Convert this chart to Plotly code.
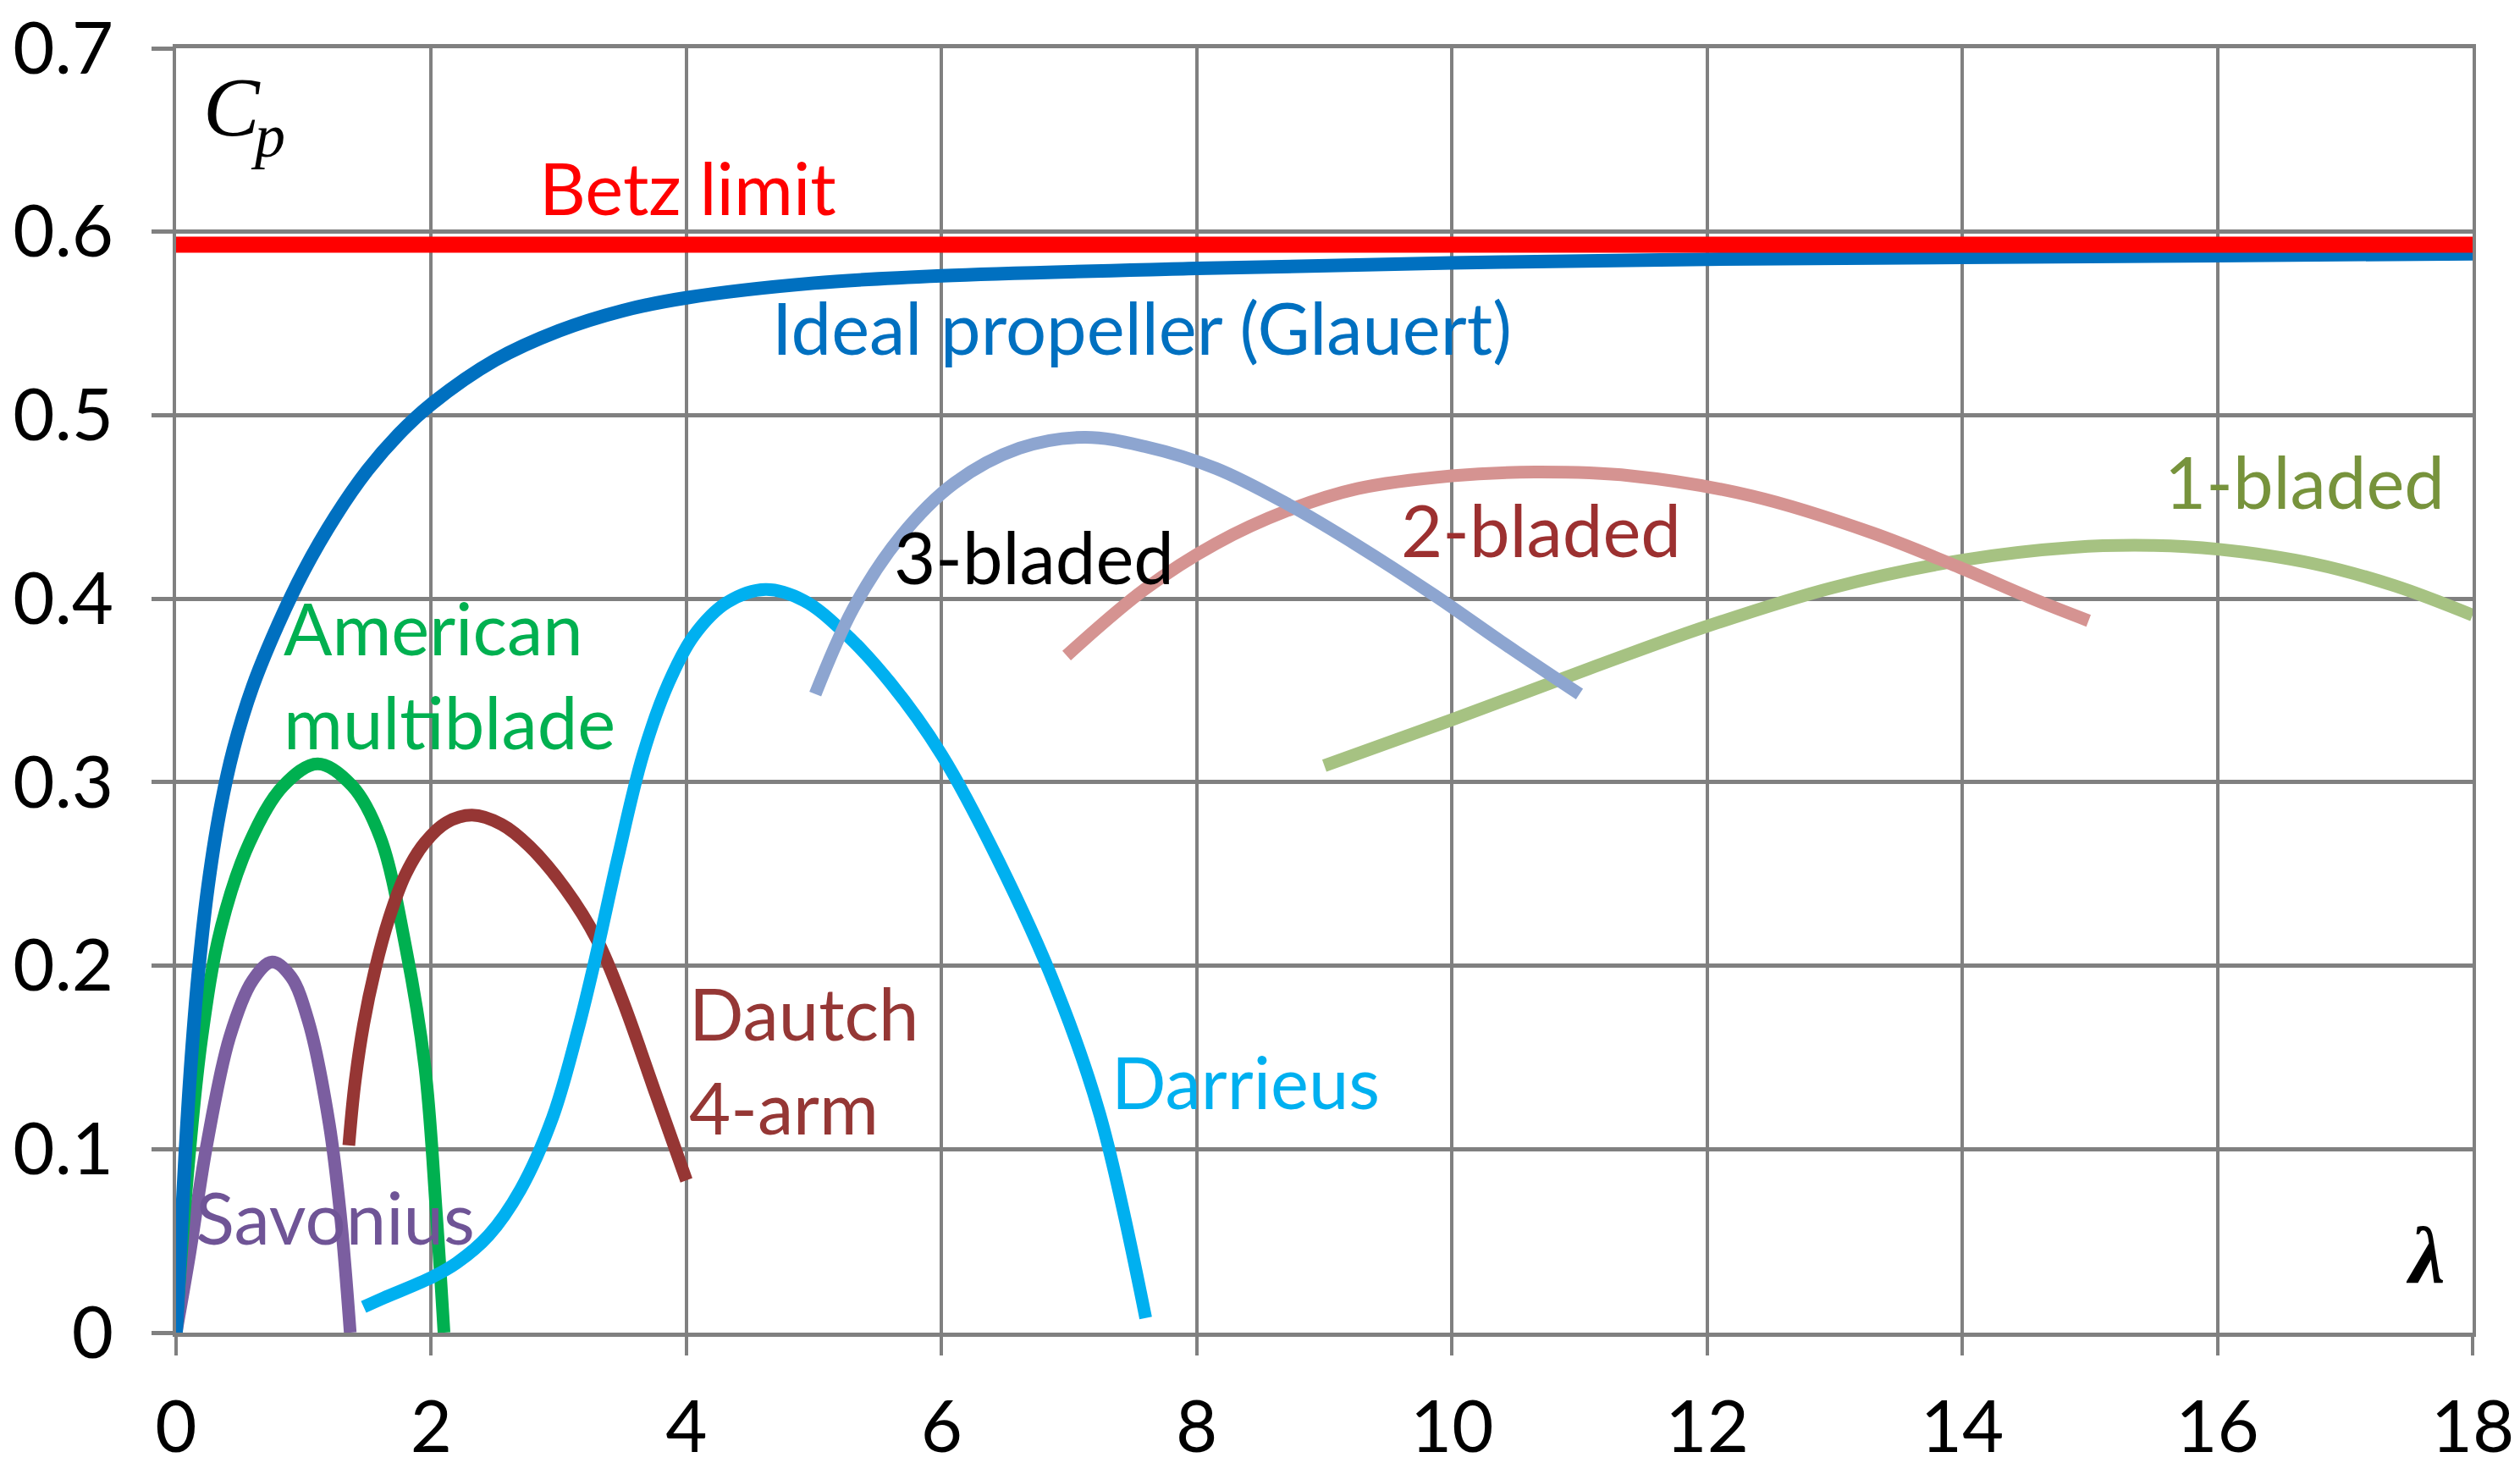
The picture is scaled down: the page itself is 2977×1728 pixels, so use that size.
import plotly.graph_objects as go

# ---------------- data ----------------
betz_x = [0, 18]
betz_y = [0.593, 0.593]

glauert_x = [0, 0.03, 0.07, 0.12, 0.18, 0.25, 0.34, 0.45, 0.6, 0.8, 1.0, 1.25, 1.5, 1.75, 2.0, 2.5, 3.0, 3.5, 4.0, 5.0, 6.0, 8.0, 10.0, 12.0, 14.0, 16.0, 18.0]
glauert_y = [0, 0.04, 0.095, 0.15, 0.2, 0.243, 0.283, 0.318, 0.352, 0.386, 0.415, 0.445, 0.47, 0.49, 0.506, 0.53, 0.546, 0.557, 0.564, 0.572, 0.576, 0.58, 0.583, 0.585, 0.586, 0.587, 0.588]

savonius_x = [0, 0.107, 0.24, 0.42, 0.6, 0.753, 0.9, 1.04, 1.2, 1.29, 1.365]
savonius_y = [0, 0.043, 0.102, 0.161, 0.192, 0.202, 0.194, 0.169, 0.114, 0.063, 0.0]

american_x = [0, 0.085, 0.2, 0.35, 0.575, 0.84, 1.11, 1.38, 1.6, 1.8, 1.95, 2.04, 2.1]
american_y = [0, 0.082, 0.16, 0.22, 0.267, 0.298, 0.31, 0.298, 0.27, 0.21, 0.145, 0.065, 0.0]

dautch_x = [1.354, 1.4, 1.47, 1.56, 1.67, 1.8, 1.95, 2.12, 2.32, 2.55, 2.77, 3.05, 3.3, 3.5, 3.76, 4.0]
dautch_y = [0.102, 0.135, 0.168, 0.198, 0.226, 0.25, 0.267, 0.278, 0.282, 0.277, 0.265, 0.242, 0.214, 0.181, 0.13, 0.083]

darrieus_x = [1.47, 1.63, 2.0, 2.2, 2.45, 2.7, 2.95, 3.15, 3.3, 3.46, 3.66, 3.86, 4.06, 4.32, 4.62, 4.92, 5.23, 5.6, 6.0, 6.44, 6.89, 7.24, 7.6]
darrieus_y = [0.014, 0.019, 0.03, 0.038, 0.053, 0.078, 0.117, 0.165, 0.208, 0.258, 0.315, 0.354, 0.38, 0.398, 0.405, 0.399, 0.382, 0.354, 0.315, 0.258, 0.189, 0.119, 0.008]

three_x = [5.01, 5.31, 5.68, 6.1, 6.61, 7.12, 7.59, 8.15, 8.7, 9.26, 9.86, 10.42, 11.0]
three_y = [0.348, 0.395, 0.434, 0.463, 0.482, 0.488, 0.483, 0.471, 0.452, 0.429, 0.402, 0.375, 0.348]

two_x = [6.98, 7.59, 8.15, 8.71, 9.26, 10.0, 10.65, 11.4, 12.35, 13.29, 13.98, 14.55, 14.99]
two_y = [0.369, 0.405, 0.43, 0.448, 0.46, 0.467, 0.469, 0.467, 0.456, 0.436, 0.417, 0.4, 0.388]

one_x = [9.0, 10.0, 11.08, 12.0, 12.98, 14.0, 14.87, 15.5, 16.0, 16.76, 17.39, 18.0]
one_y = [0.309, 0.334, 0.362, 0.385, 0.406, 0.421, 0.428, 0.429, 0.427, 0.419, 0.407, 0.391]

x_ticks = [0, 2, 4, 6, 8, 10, 12, 14, 16, 18]
y_ticks = [0, 0.1, 0.2, 0.3, 0.4, 0.5, 0.6, 0.7]
y_ticklabels = ["0", "0.1", "0.2", "0.3", "0.4", "0.5", "0.6", "0.7"]

# ---------------- figure ----------------
FONT = "Lato"
FS = 85
GRID = "#808080"

fig = go.Figure()

series = [
    (savonius_x, savonius_y, "#7B5EA0", 15),
    (american_x, american_y, "#00B050", 15),
    (dautch_x, dautch_y, "#963634", 15),
    (darrieus_x, darrieus_y, "#00B0F0", 15),
    (one_x, one_y, "#A6C282", 15),
    (two_x, two_y, "#D59391", 15),
    (three_x, three_y, "#8DA5D0", 15),
    (glauert_x, glauert_y, "#0070C0", 16),
    (betz_x, betz_y, "#FF0000", 19),
]
for xs, ys, col, w in series:
    fig.add_trace(go.Scatter(x=xs, y=ys, mode="lines",
                             line=dict(color=col, width=w, shape="spline", smoothing=1.0),
                             showlegend=False, hoverinfo="skip"))

labels = [
    ("Betz limit", 2.83, 0.6245, "#FF0000"),
    ("Ideal propeller (Glauert)", 4.66, 0.548, "#0070C0"),
    ("3-bladed", 5.61, 0.423, "#000000"),
    ("2-bladed", 9.59, 0.438, "#9C3030"),
    ("1-bladed", 15.57, 0.464, "#77933C"),
    ("American<br>multiblade", 0.83, 0.359, "#00B050"),
    ("Dautch<br>4-arm", 4.01, 0.149, "#953735"),
    ("Darrieus", 7.32, 0.137, "#00B0F0"),
    ("Savonius", 0.14, 0.063, "#6F5496"),
]
for txt, x, y, col in labels:
    fig.add_annotation(x=x, y=y, xref="x", yref="y", text=txt, showarrow=False,
                       xanchor="left", yanchor="middle", align="left",
                       font=dict(family=FONT, size=FS, color=col))

# axis symbols
fig.add_annotation(x=0.2, y=0.668, xref="x", yref="y", text="<i>C</i>",
                   showarrow=False, xanchor="left", yanchor="middle",
                   font=dict(family="Liberation Serif", size=100, color="#000000"))
fig.add_annotation(x=0.57, y=0.652, xref="x", yref="y", text="<i>p</i>",
                   showarrow=False, xanchor="left", yanchor="middle",
                   font=dict(family="Liberation Serif", size=72, color="#000000"))
fig.add_annotation(x=17.8, y=0.042, xref="x", yref="y", text="<b><i>λ</i></b>",
                   showarrow=False, xanchor="right", yanchor="middle",
                   font=dict(family="Liberation Serif", size=96, color="#000000"))

fig.update_layout(
    width=2977, height=1728,
    margin=dict(l=200, r=64, t=49, b=162),
    paper_bgcolor="white", plot_bgcolor="white",
    font=dict(family=FONT, size=FS, color="#000000"),
)
fig.update_xaxes(range=[0, 18], tickvals=x_ticks, ticktext=[str(v) for v in x_ticks],
                 automargin=False, ticklabeloverflow="allow",
                 showgrid=True, gridcolor=GRID, gridwidth=4,
                 showline=True, linecolor=GRID, linewidth=5, mirror=True,
                 ticks="outside", ticklen=22, tickwidth=4, tickcolor=GRID,
                 ticklabelstandoff=12, zeroline=False,
                 tickfont=dict(family=FONT, size=FS, color="#000000"))
fig.update_yaxes(range=[0, 0.7], tickvals=y_ticks, ticktext=y_ticklabels,
                 automargin=False, ticklabeloverflow="allow",
                 showgrid=True, gridcolor=GRID, gridwidth=5,
                 showline=True, linecolor=GRID, linewidth=4, mirror=True,
                 ticks="outside", ticklen=25, tickwidth=5, tickcolor=GRID,
                 ticklabelstandoff=28, zeroline=False,
                 tickfont=dict(family=FONT, size=FS, color="#000000"))

fig.write_html("out.html")
